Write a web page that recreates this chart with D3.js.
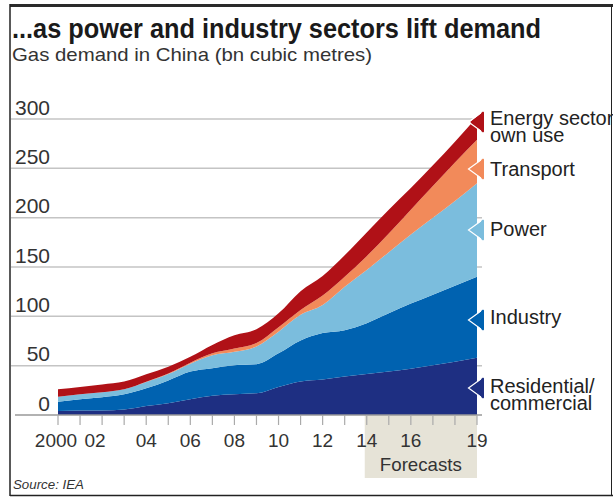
<!DOCTYPE html>
<html><head><meta charset="utf-8">
<script src="https://cdn.jsdelivr.net/npm/d3@7"></script>
<style>body{margin:0;background:#fff}svg{display:block}</style>
</head><body>
<svg id="c" width="613" height="499"></svg>
<script>
const years = d3.range(2000, 2020);
const residential = [4,4.5,4.5,5.5,9,12,16,19.5,21,22,28.5,34,36,39,41.5,44,47,50.5,54,58];
const industry    = [9.5,11.5,13.5,15.5,18,23,28,28,29.5,29.5,34,41.5,47,47,51.5,59,66,71.5,77,82];
const power       = [5,5,5,5,6.5,6.5,8,13,13.5,18,22,26,28.5,44,54,62,70,78,86,95];
const transport   = [0,0,0,0,0.3,0.5,1,2,3.3,3.4,4.5,5,9.5,10,14,19,25,32,39,44];
const energy      = [7.5,7.5,8,8,7.5,7,6,8.5,13.5,14,14,19,20,22,24,24,22,21,21,23];
const seriesKeys  = ["residential","industry","power","transport","energy"];
const seriesLabels = [["Residential/","commercial"],["Industry"],["Power"],["Transport"],["Energy sector","own use"]];
const yTicks = [0,50,100,150,200,250,300];
const xTickLabels = ["2000","02","04","06","08","10","12","14","16","19"];
const xTickYears  = [2000,2002,2004,2006,2008,2010,2012,2014,2016,2019];
const forecastStart = 2014;

const colors = {residential:"#1e2f82",industry:"#0062b0",power:"#7bbddd",transport:"#f28a5a",energy:"#b01117"};
const arrowY = {residential:388,industry:320,power:230,transport:169,energy:122};
const labelY = {residential:393,industry:324,power:236,transport:176,energy:125};

const svg = d3.select("#c");
const FONT = "'Liberation Sans', Arial, sans-serif";

const x = d3.scaleLinear().domain([2000, 2019]).range([58, 477]);
const y = d3.scaleLinear().domain([0, 300]).range([415, 119]);

// frame
svg.append("rect").attr("x",10).attr("y",4).attr("width",603).attr("height",3).attr("fill","#2a2a2a");
svg.append("line").attr("x1",10).attr("x2",10).attr("y1",4).attr("y2",496).attr("stroke","#222").attr("stroke-width",1.5);
svg.append("line").attr("x1",10).attr("x2",613).attr("y1",495.5).attr("y2",495.5).attr("stroke","#222").attr("stroke-width",1.5);
svg.append("line").attr("x1",611.5).attr("x2",611.5).attr("y1",4).attr("y2",496).attr("stroke","#222").attr("stroke-width",1);

// title
svg.append("text").attr("x",12).attr("y",38).attr("font-family",FONT).attr("font-weight","bold")
  .attr("font-size",28).attr("fill","#1a1a1a").attr("textLength",529).attr("lengthAdjust","spacingAndGlyphs")
  .text("...as power and industry sectors lift demand");
svg.append("text").attr("x",12).attr("y",61).attr("font-family",FONT)
  .attr("font-size",19).attr("fill","#333").attr("textLength",360).attr("lengthAdjust","spacingAndGlyphs")
  .text("Gas demand in China (bn cubic metres)");

// forecast band
svg.append("rect").attr("x",x(forecastStart)-2).attr("y",415).attr("width",x(2019)-x(forecastStart)+2)
  .attr("height",63).attr("fill","#e6e3d7");
svg.append("text").attr("x",(x(forecastStart)-2+x(2019))/2).attr("y",471).attr("text-anchor","middle")
  .attr("font-family",FONT).attr("font-size",19).attr("fill","#333").attr("textLength",82).attr("lengthAdjust","spacingAndGlyphs").text("Forecasts");

// gridlines
yTicks.filter(d=>d>0).forEach(t=>{
  svg.append("line").attr("x1",11).attr("x2",482).attr("y1",y(t)).attr("y2",y(t))
    .attr("stroke","#c4c4c4").attr("stroke-width",1.5);
});
// y labels
yTicks.forEach(t=>{
  svg.append("text").attr("x",50).attr("y",y(t)-4.5).attr("text-anchor","end")
    .attr("font-family",FONT).attr("font-size",21).attr("fill","#333").text(t);
});

// stacked areas
const data = years.map((yr,i)=>({year:yr,residential:residential[i],industry:industry[i],power:power[i],transport:transport[i],energy:energy[i]}));
const stack = d3.stack().keys(seriesKeys);
const layers = stack(data);
const area = d3.area().x(d=>x(d.data.year)).y0(d=>y(d[0])).y1(d=>y(d[1])).curve(d3.curveMonotoneX);
svg.append("g").selectAll("path").data(layers).join("path")
  .attr("d",area).attr("fill",d=>colors[d.key]);

// baseline and ticks
svg.append("line").attr("x1",15).attr("x2",482).attr("y1",415).attr("y2",415).attr("stroke","#999").attr("stroke-width",1.5);
years.forEach(yr=>{
  svg.append("line").attr("x1",x(yr)).attr("x2",x(yr)).attr("y1",415).attr("y2",425)
    .attr("stroke","#aaa").attr("stroke-width",1.2);
});
xTickYears.forEach((yr,i)=>{
  svg.append("text").attr("x",x(yr)+(yr===2002?-7:(yr===2000?-2:0))).attr("y",447).attr("text-anchor","middle")
    .attr("font-family",FONT).attr("font-size",19).attr("fill","#333").text(xTickLabels[i]);
});

// legend arrows and labels
seriesKeys.forEach((k,i)=>{
  const ay = arrowY[k];
  svg.append("path").attr("d",`M483,${ay-10.5}L470,${ay}L483,${ay+10.5}Z`).attr("fill",colors[k]);
  svg.append("path").attr("d",`M481,${ay-9}L468.5,${ay}L481,${ay+9}`).attr("fill","none").attr("stroke","#fff").attr("stroke-width",1.2);
  svg.append("path").attr("d",`M483,${ay-10.5}L470,${ay}L483,${ay+10.5}Z`).attr("fill",colors[k]).attr("transform","translate(1,0)");
  const t = svg.append("text").attr("x",490).attr("y",labelY[k]).attr("font-family",FONT).attr("font-size",20).attr("fill","#222");
  seriesLabels[i].forEach((ln,j)=>{
    t.append("tspan").attr("x",490).attr("dy",j===0?0:17).text(ln);
  });
});

// source
svg.append("text").attr("x",13).attr("y",489).attr("font-family",FONT).attr("font-style","italic")
  .attr("font-size",13).attr("fill","#333").attr("textLength",71).attr("lengthAdjust","spacingAndGlyphs").text("Source: IEA");
</script>
</body></html>
